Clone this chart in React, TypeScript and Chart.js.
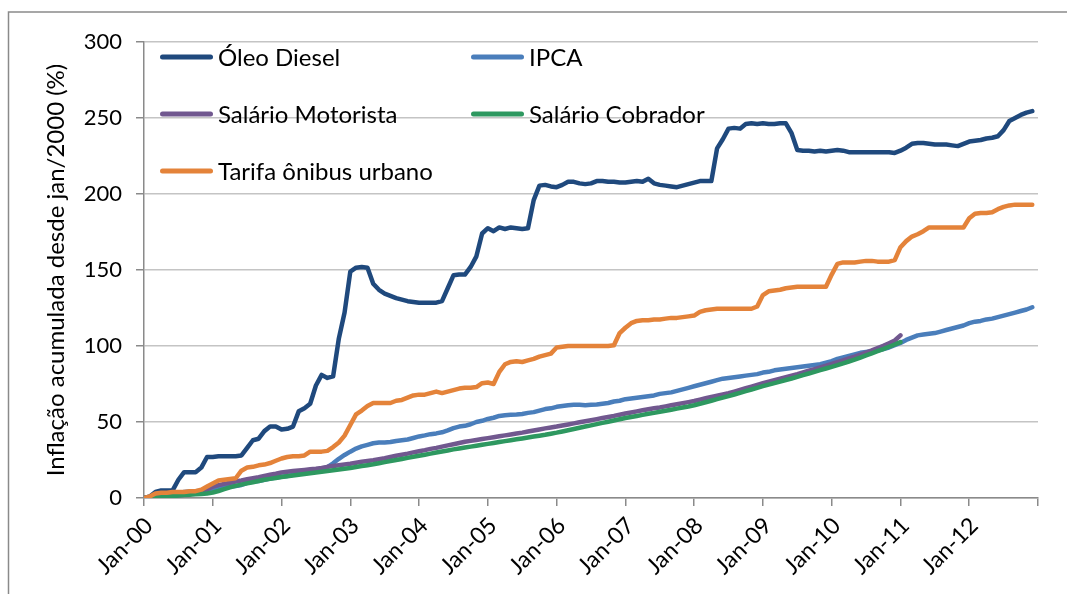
import React, { useEffect, useRef } from "react";
import { Chart, registerables } from "chart.js";

Chart.register(...registerables);

const yearLabels = ["Jan-00", "Jan-01", "Jan-02", "Jan-03", "Jan-04", "Jan-05", "Jan-06", "Jan-07", "Jan-08", "Jan-09", "Jan-10", "Jan-11", "Jan-12"];

const oleoDiesel = [
  0, 1, 4, 5, 5, 5, 12, 17, 17, 17, 20, 27,
  27, 27.5, 27.5, 27.5, 27.5, 28, 33, 38, 39, 44, 47, 47,
  45, 45.5, 47, 57, 59, 62, 74, 81, 79, 80, 105, 122,
  149, 151.5, 152, 151.5, 141, 137, 134.5, 133, 131.5, 130.5, 129.5, 129,
  128.5, 128.5, 128.5, 128.5, 129.5, 138, 146.5, 147, 147, 152, 159, 174,
  177.5, 175.5, 178, 177, 178, 177.5, 177, 177.5, 196, 205.5, 206, 205,
  204.5, 206, 208, 208, 207, 206.5, 207, 208.5, 208.5, 208, 208, 207.5,
  207.5, 208, 208.5, 208, 210, 207, 206, 205.5, 205, 204.5, 205.5, 206.5,
  207.5, 208.5, 208.5, 208.5, 230, 236, 243, 243.5, 243, 246, 246.5, 246,
  246.5, 246, 246, 246.5, 246.5, 240, 229, 228.5, 228.5, 228, 228.5, 228,
  228.5, 229, 228.5, 227.5, 227.5, 227.5, 227.5, 227.5, 227.5, 227.5, 227.5, 227,
  228.5, 230.5, 233, 233.5, 233.5, 233, 232.5, 232.5, 232.5, 232, 231.5, 233,
  234.5, 235, 235.5, 236.5, 237, 238, 242, 248, 250, 252, 253.5, 254.5,
];

const ipca = [
  0, 0.5, 0.7, 1.0, 1.1, 1.4, 2.6, 4.0, 4.3, 4.5, 4.8, 5.4,
  6.0, 6.5, 6.9, 7.5, 7.9, 8.6, 10.0, 10.8, 11.2, 12.0, 12.8, 13.5,
  14.0, 14.5, 15.2, 16.0, 16.4, 17.0, 18.5, 19.3, 20.3, 22.8, 25.8, 28.3,
  30.5, 32.5, 34.0, 35.0, 36.0, 36.5, 36.5, 36.8, 37.5, 38.0, 38.5, 39.5,
  40.5, 41.2, 42.0, 42.5, 43.2, 44.5, 46.0, 47.0, 47.5, 48.5, 50.0, 50.8,
  52.0, 52.8, 54.0, 54.5, 54.8, 55.0, 55.3, 56.0, 56.5, 57.5, 58.5, 59.0,
  60.0, 60.5, 61.0, 61.3, 61.3, 61.0, 61.3, 61.5, 62.0, 62.5, 63.5, 64.0,
  65.0, 65.5, 66.0, 66.5, 67.0, 67.5, 68.5, 69.0, 69.5, 70.5, 71.5, 72.5,
  73.5, 74.5, 75.5, 76.5, 77.5, 78.5, 79.0, 79.5, 80.0, 80.5, 81.0, 81.5,
  82.5, 83.0, 84.0, 84.5, 85.0, 85.5, 86.0, 86.5, 87.0, 87.5, 88.0, 89.0,
  90.0, 91.5, 92.5, 93.5, 94.5, 95.5, 96.0, 96.5, 97.0, 98.0, 99.0, 100.5,
  102.0, 104.0, 105.5, 107.0, 107.5, 108.0, 108.5, 109.5, 110.5, 111.5, 112.5, 113.5,
  115.0, 116.0, 116.5, 117.5, 118.0, 119.0, 120.0, 121.0, 122.0, 123.0, 124.0, 125.5,
];

const salarioMotorista = [
  0, 0.3, 0.6, 0.9, 1.2, 1.5, 1.8, 2.2, 2.6, 3.2, 4.5, 5.8,
  7.5, 8.5, 9.3, 10.0, 10.8, 11.5, 12.3, 13.0, 13.7, 14.5, 15.3, 16.0,
  16.8, 17.3, 17.7, 18.1, 18.5, 18.9, 19.3, 19.8, 20.5, 21.0, 21.5, 22.0,
  22.5, 23.2, 23.8, 24.3, 24.8, 25.5, 26.2, 27.0, 27.8, 28.5, 29.2, 30.0,
  30.8, 31.5, 32.3, 33.0, 33.8, 34.6, 35.4, 36.2, 37.0, 37.6, 38.2, 38.8,
  39.4, 40.0, 40.6, 41.2, 41.8, 42.4, 43.0, 43.7, 44.4, 45.1, 45.8, 46.4,
  47.0, 47.7, 48.4, 49.1, 49.8, 50.5, 51.2, 51.9, 52.6, 53.3, 54.0, 54.8,
  55.6, 56.3, 57.0, 57.7, 58.4, 59.0, 59.6, 60.3, 61.0, 61.7, 62.4, 63.1,
  63.8, 64.7, 65.6, 66.5, 67.3, 68.1, 68.9, 70.0, 71.1, 72.2, 73.3, 74.4,
  75.5, 76.5, 77.5, 78.5, 79.5, 80.5, 81.5, 82.6, 83.7, 84.8, 85.9, 87.0,
  88.2, 89.4, 90.6, 91.8, 93.0, 94.3, 95.7, 97.1, 98.6, 100.1, 101.8, 103.6,
  107.0,
];

const salarioCobrador = [
  0, 0, 0.2, 0.5, 0.8, 1.2, 1.6, 2.0, 2.2, 2.4, 2.7, 3.0,
  3.6, 4.6, 5.8, 7.0, 8.0, 8.8, 9.6, 10.4, 11.2, 12.0, 12.6, 13.2,
  13.8, 14.3, 14.8, 15.3, 15.8, 16.3, 16.8, 17.3, 17.8, 18.3, 18.8, 19.3,
  19.8, 20.4, 21.0, 21.6, 22.2, 22.9, 23.6, 24.3, 25.0, 25.7, 26.4, 27.1,
  27.8, 28.5, 29.2, 29.9, 30.6, 31.3, 32.0, 32.6, 33.2, 33.8, 34.4, 35.0,
  35.6, 36.2, 36.8, 37.4, 38.0, 38.6, 39.2, 39.8, 40.4, 41.0, 41.6, 42.3,
  43.0, 43.8, 44.6, 45.4, 46.2, 47.0, 47.8, 48.6, 49.4, 50.2, 51.0, 51.8,
  52.6, 53.3, 54.0, 54.7, 55.4, 56.0, 56.7, 57.4, 58.1, 58.8, 59.5, 60.2,
  61.0, 62.0, 63.0, 64.0, 65.0, 66.0, 67.0, 68.1, 69.2, 70.3, 71.4, 72.5,
  73.6, 74.6, 75.6, 76.6, 77.6, 78.6, 79.7, 80.8, 81.9, 83.0, 84.1, 85.2,
  86.3, 87.4, 88.6, 89.8, 91.0, 92.4, 93.8, 95.2, 96.6, 98.0, 99.5, 101.0,
  102.5,
];

const tarifaOnibus = [
  0, 1, 3, 3.5, 3.5, 4, 4, 4, 4.5, 4.5, 5.5, 7.5,
  9.5, 11.5, 12, 12.5, 13, 18, 20, 20.5, 21.5, 22, 23, 24.5,
  26, 27, 27.5, 27.5, 28, 30.5, 30.5, 30.5, 31, 33.5, 36.5, 41,
  48, 55, 57.5, 60.5, 62.5, 62.5, 62.5, 62.5, 64, 64.5, 66, 67.5,
  68, 68, 69, 70, 69, 70, 71, 72, 72.5, 72.5, 73, 75.5,
  76, 75, 83, 88, 89.5, 90, 89.5, 90.5, 91.5, 93, 94, 95,
  99, 99.5, 100, 100, 100, 100, 100, 100, 100, 100, 100.5, 108.5,
  112, 115, 116.5, 117, 117, 117.5, 117.5, 118, 118.5, 118.5, 119, 119.5,
  120, 122.5, 123.5, 124, 124.5, 124.5, 124.5, 124.5, 124.5, 124.5, 124.5, 126,
  133.5, 136, 136.5, 137, 138, 138.5, 139, 139, 139, 139, 139, 139,
  147, 154, 155, 155, 155, 155.5, 156, 156, 155.5, 155.5, 155.5, 156.5,
  165, 169, 172, 173.5, 175.5, 178, 178, 178, 178, 178, 178, 178,
  184, 187, 187.5, 187.5, 188, 190, 191.5, 192.5, 193, 193, 193, 193,
];

const seriesNames = ["Óleo Diesel", "IPCA", "Salário Motorista", "Salário Cobrador", "Tarifa ônibus urbano"];
const seriesColors = ["#1F497D", "#4A7EBB", "#71588F", "#2E9860", "#E4833A"];

const FONT = "Lato";

export default function App() {
  const canvasRef = useRef<HTMLCanvasElement | null>(null);

  useEffect(() => {
    document.body.style.margin = "0";
    const canvas = canvasRef.current;
    if (!canvas) return;

    const monthIndex = oleoDiesel.map((_, i) => i);
    const seriesData = [oleoDiesel, ipca, salarioMotorista, salarioCobrador, tarifaOnibus];

    const framePlugin = {
      id: "frame",
      beforeDraw(chart: any) {
        const ctx = chart.ctx;
        ctx.save();
        ctx.fillStyle = "#ffffff";
        ctx.fillRect(0, 0, chart.width, chart.height);
        ctx.strokeStyle = "#8a8a8a";
        ctx.lineWidth = 1.5;
        ctx.strokeRect(8.5, 12, chart.width + 20, chart.height + 20);
        ctx.restore();
      },
    };

    const legendPlugin = {
      id: "customLegend",
      afterDraw(chart: any) {
        const ctx = chart.ctx;
        const area = chart.chartArea;
        const cols = [area.left + 16, area.left + 327];
        const rows = [area.top + 15, area.top + 72, area.top + 129];
        ctx.save();
        ctx.font = `24px ${FONT}`;
        ctx.textBaseline = "middle";
        ctx.textAlign = "left";
        seriesNames.forEach((name, k) => {
          const col = cols[k % 2];
          const row = rows[Math.floor(k / 2)];
          ctx.strokeStyle = seriesColors[k];
          ctx.lineWidth = 5;
          ctx.lineCap = "round";
          ctx.beginPath();
          ctx.moveTo(col + 2.5, row);
          ctx.lineTo(col + 50.5, row);
          ctx.stroke();
          ctx.fillStyle = "#000000";
          ctx.fillText(name, col + 58, row + 1);
        });
        ctx.restore();
      },
    };

    const chart = new Chart(canvas, {
      type: "line",
      data: {
        labels: monthIndex,
        datasets: seriesNames.map((name, k) => ({
          label: name,
          data: seriesData[k],
          borderColor: seriesColors[k],
          backgroundColor: seriesColors[k],
          borderWidth: 4.5,
          borderJoinStyle: "round" as const,
          borderCapStyle: "round" as const,
          pointRadius: 0,
          tension: 0,
          fill: false,
          order: 5 - k,
        })),
      },
      options: {
        responsive: false,
        animation: false,
        layout: { padding: { left: 0, top: 42, right: 29, bottom: 0 } },
        plugins: {
          legend: { display: false },
          tooltip: { enabled: false },
        },
        scales: {
          x: {
            type: "linear",
            min: 0,
            max: 156,
            afterFit(scale: any) {
              scale.height = 96;
              scale.paddingLeft = 0;
              scale.paddingRight = 0;
            },
            ticks: {
              stepSize: 12,
              autoSkip: false,
              minRotation: 45,
              maxRotation: 45,
              padding: 6,
              labelOffset: 5,
              color: "#000000",
              font: { family: FONT, size: 23 },
              callback: (value: any) => {
                const k = Number(value) / 12;
                return Number.isInteger(k) && k < yearLabels.length ? yearLabels[k] : "";
              },
            },
            grid: {
              drawOnChartArea: false,
              drawTicks: true,
              tickLength: 8,
              color: "#8a8a8a",
              lineWidth: 1.5,
            },
            border: { color: "#8a8a8a", width: 1.5 },
          },
          y: {
            min: 0,
            max: 300,
            afterFit(scale: any) {
              scale.width = 144;
              scale.paddingTop = 0;
              scale.paddingBottom = 0;
            },
            ticks: {
              stepSize: 50,
              padding: 14,
              color: "#000000",
              font: { family: FONT, size: 22 },
            },
            grid: {
              color: "#c4c4c4",
              lineWidth: 1.5,
              tickLength: 8,
              tickColor: "#8a8a8a",
            },
            border: { color: "#8a8a8a", width: 1.5 },
            title: {
              display: true,
              text: "Inflação acumulada desde jan/2000 (%)",
              color: "#000000",
              font: { family: FONT, size: 24 },
              padding: { top: 42, bottom: 0 },
            },
          },
        },
      },
      plugins: [framePlugin, legendPlugin],
    });

    return () => chart.destroy();
  }, []);

  return (
    <div style={{ width: 1067, height: 594, position: "relative" }}>
      <canvas ref={canvasRef} width={1067} height={594} style={{ display: "block", width: 1067, height: 594 }} />
    </div>
  );
}
